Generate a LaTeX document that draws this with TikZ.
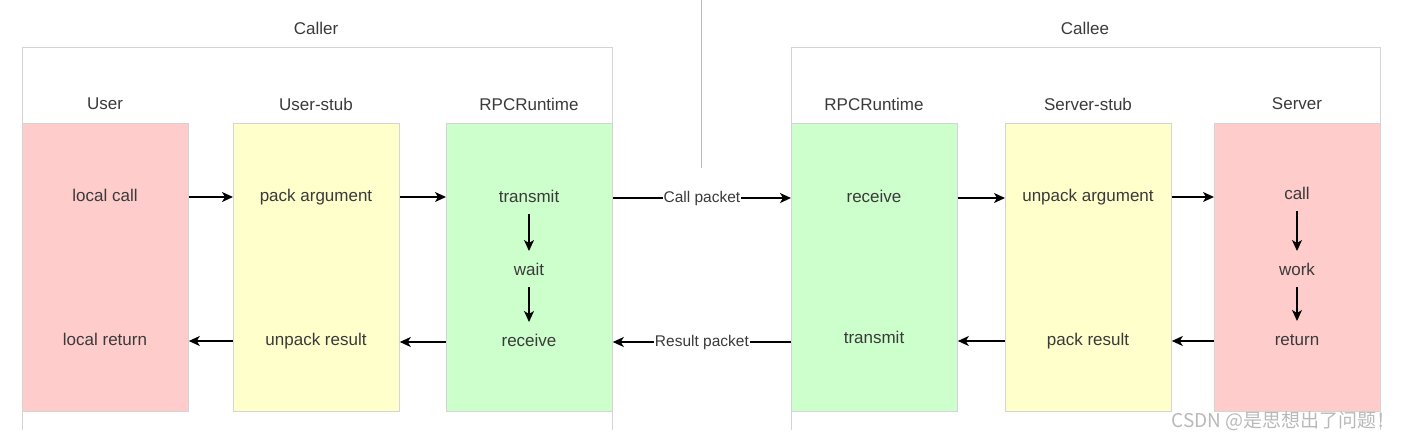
\documentclass[tikz,border=0pt]{standalone}
\usepackage{fontspec}
\setmainfont{Liberation Sans}
\newfontfamily\cjk{Noto Sans CJK SC}
\usetikzlibrary{arrows.meta}
\definecolor{pinkf}{HTML}{FFCCCC}
\definecolor{yelf}{HTML}{FFFFCC}
\definecolor{grnf}{HTML}{CCFFCC}
\definecolor{frame}{HTML}{D4D4D4}
\definecolor{txt}{HTML}{3A3A3A}
\tikzset{
  col/.style={draw=frame, line width=0.8pt, minimum width=166pt, minimum height=288pt, inner sep=0, anchor=north west},
  ttl/.style={text=txt, font=\fontsize{17}{20}\selectfont, inner sep=0},
  lab/.style={text=txt, font=\fontsize{17}{20}\selectfont, inner sep=0, text height=12pt, text depth=3.5pt},
  pkt/.style={text=txt, font=\fontsize{15.5}{18}\selectfont, fill=white, inner sep=1pt},
  arr/.style={line width=1.5pt, -{Stealth[length=11pt,width=10pt,inset=3pt]}},
  vline/.style={arr, shorten <=16pt, shorten >=20pt},
  cont/.style={draw=frame, line width=0.8pt}
}
\begin{document}
\begin{tikzpicture}[x=1pt,y=-1pt]
\useasboundingbox (0,0) rectangle (1406,440);
% containers (open at the bottom)
\coordinate (cl1) at (22,430); \coordinate (cl2) at (22,47);
\coordinate (cl3) at (612,47); \coordinate (cl4) at (612,430);
\draw[cont] (cl1) -- (cl2) -- (cl3) -- (cl4);
\coordinate (ce1) at (791,430); \coordinate (ce2) at (791,47);
\coordinate (ce3) at (1380,47); \coordinate (ce4) at (1380,430);
\draw[cont] (ce1) -- (ce2) -- (ce3) -- (ce4);
% middle divider
\coordinate (d1) at (701,0); \coordinate (d2) at (701,168);
\draw[draw=gray!55, line width=0.8pt] (d1) -- (d2);
% titles
\node[ttl] (caller) at (316,28) {Caller};
\node[ttl] (callee) at (1085,28) {Callee};
% columns
\node[col, fill=pinkf] (user) at (22,123) {};
\node[col, fill=yelf] (ustub) at (233,123) {};
\node[col, fill=grnf] (rl) at (446,123) {};
\node[col, fill=grnf] (rr) at (791,123) {};
\node[col, fill=yelf] (sstub) at (1005,123) {};
\node[col, fill=pinkf] (srv) at (1214,123) {};
% column headers
\node[ttl] (h1) at (105,104) {User};
\node[ttl] (h2) at (316,104) {User-stub};
\node[ttl] (h3) at (529,104) {RPCRuntime};
\node[ttl] (h4) at (874,104) {RPCRuntime};
\node[ttl] (h5) at (1088,104) {Server-stub};
\node[ttl] (h6) at (1297,104) {Server};
% texts
\node[lab] (lc) at (105,197) {local call};
\node[lab] (pa) at (316,197) {pack argument};
\node[lab] (tx1) at (529,198) {transmit};
\node[lab] (wait) at (529,271) {wait};
\node[lab] (rc1) at (529,342) {receive};
\node[lab] (lr) at (105,341) {local return};
\node[lab] (ur) at (316,341) {unpack result};
\node[lab] (rc2) at (874,198) {receive};
\node[lab] (tx2) at (874,339) {transmit};
\node[lab] (ua) at (1088,197) {unpack argument};
\node[lab] (pr) at (1088,341) {pack result};
\node[lab] (call) at (1297,195) {call};
\node[lab] (work) at (1297,271) {work};
\node[lab] (ret) at (1297,341) {return};
% forward arrows
\draw[arr] (lc -| user.east) -- (lc -| ustub.west);
\draw[arr] (pa -| ustub.east) -- (pa -| rl.west);
\draw[arr] (tx1 -| rl.east) -- node[pkt] (cp) {Call packet} (tx1 -| rr.west);
\draw[arr] (rc2 -| rr.east) -- (rc2 -| sstub.west);
\draw[arr] (ua -| sstub.east) -- (ua -| srv.west);
% backward arrows
\draw[arr] (ret -| srv.west) -- (ret -| sstub.east);
\draw[arr] (pr -| sstub.west) -- (pr -| rr.east);
\draw[arr] (rc1 -| rr.west) -- node[pkt] (rp) {Result packet} (rc1 -| rl.east);
\draw[arr] (rc1 -| rl.west) -- (rc1 -| ustub.east);
\draw[arr] (ur -| ustub.west) -- (ur -| user.east);
% vertical arrows
\draw[vline] (tx1.center) -- (wait.center);
\draw[vline] (wait.center) -- (rc1.center);
\draw[vline] (call.center) -- (work.center);
\draw[vline] (work.center) -- (ret.center);
% watermark
\node[anchor=east, text=gray!55, font=\cjk\fontsize{19}{21}\selectfont, inner sep=0] (wm) at (1396,421) {CSDN @是思想出了问题！};
\end{tikzpicture}
\end{document}
